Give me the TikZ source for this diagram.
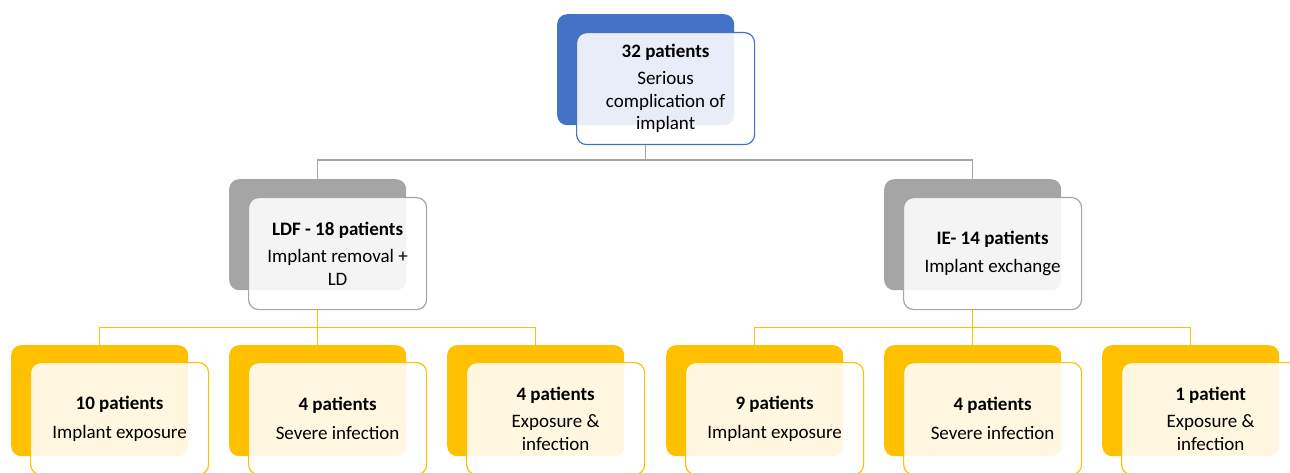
\documentclass[tikz,border=0pt]{standalone}
\usepackage{fontspec}
\setmainfont{Carlito}
\begin{document}
\begin{tikzpicture}[x=1pt,y=-1pt,
  backbox/.style={rounded corners=10pt, minimum width=177pt, minimum height=111pt, anchor=north west, inner sep=0pt},
  frontbox/.style={draw, line width=1.2pt, rounded corners=10pt, minimum width=178pt, minimum height=112pt,
    anchor=north west, inner sep=2pt, fill=white, fill opacity=0.88, text opacity=1, align=center,
    font=\fontsize{19}{22.5}\selectfont},
  link/.style={line width=1.4pt}
]
\definecolor{topblue}{HTML}{4472C4}
\definecolor{midgray}{HTML}{A5A5A5}
\definecolor{gold}{HTML}{FFC000}
\useasboundingbox (0,0) rectangle (1290,473);

% root
\node[backbox, fill=topblue] (rootB) at (557,14) {};
\node[frontbox, draw=topblue] (rootF) at (576,32)
  {\textbf{32 patients}\\[5pt]Serious\\complication of\\implant};

% second level
\node[backbox, fill=midgray] (ldfB) at (229,179) {};
\node[frontbox, draw=midgray] (ldfF) at (248,197)
  {\textbf{LDF - 18 patients}\\[5pt]Implant removal +\\LD};
\node[backbox, fill=midgray] (ieB) at (884,179) {};
\node[frontbox, draw=midgray] (ieF) at (903,197)
  {\textbf{IE- 14 patients}\\[6pt]Implant exchange};

% third level
\node[backbox, fill=gold] (aB) at (11,345) {};
\node[frontbox, draw=gold] (aF) at (30,362) {\textbf{10 patients}\\[6pt]Implant exposure};
\node[backbox, fill=gold] (bB) at (229,345) {};
\node[frontbox, draw=gold] (bF) at (248,362) {\textbf{4 patients}\\[6pt]Severe infection};
\node[backbox, fill=gold] (cB) at (447,345) {};
\node[frontbox, draw=gold] (cF) at (466,362) {\textbf{4 patients}\\[5pt]Exposure \&\\infection};
\node[backbox, fill=gold] (dB) at (666,345) {};
\node[frontbox, draw=gold] (dF) at (685,362) {\textbf{9 patients}\\[6pt]Implant exposure};
\node[backbox, fill=gold] (eB) at (884,345) {};
\node[frontbox, draw=gold] (eF) at (903,362) {\textbf{4 patients}\\[6pt]Severe infection};
\node[backbox, fill=gold] (fB) at (1102,345) {};
\node[frontbox, draw=gold] (fF) at (1121,362) {\textbf{1 patient}\\[5pt]Exposure \&\\infection};

% connectors, drawn from the back-box centres
\draw[link, draw=midgray] (rootF.south -| rootB.south) -- ++(0,15) -| (ldfB.north);
\draw[link, draw=midgray] (rootF.south -| rootB.south) -- ++(0,15) -| (ieB.north);
\draw[link, draw=gold] (ldfF.south -| ldfB.south) -- ++(0,17) -| (aB.north);
\draw[link, draw=gold] (ldfF.south -| ldfB.south) -- (bB.north);
\draw[link, draw=gold] (ldfF.south -| ldfB.south) -- ++(0,17) -| (cB.north);
\draw[link, draw=gold] (ieF.south -| ieB.south) -- ++(0,17) -| (dB.north);
\draw[link, draw=gold] (ieF.south -| ieB.south) -- (eB.north);
\draw[link, draw=gold] (ieF.south -| ieB.south) -- ++(0,17) -| (fB.north);
\end{tikzpicture}
\end{document}
